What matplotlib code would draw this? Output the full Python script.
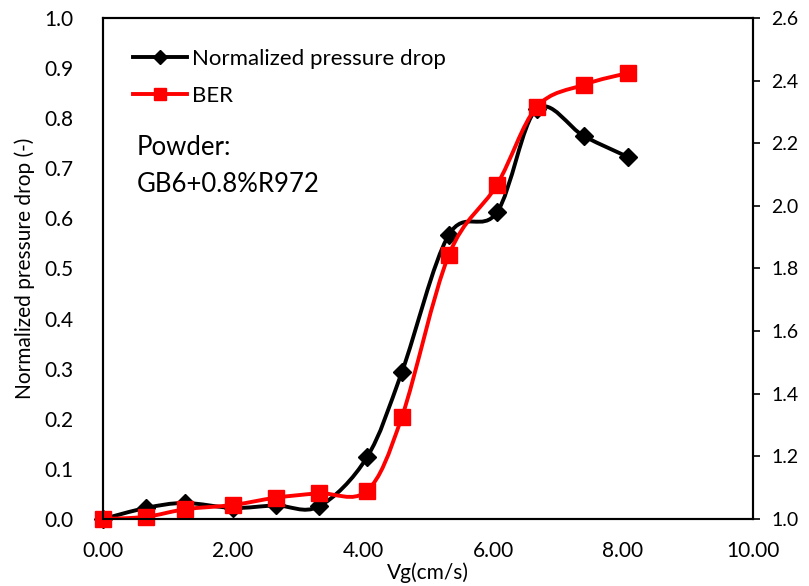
#!/usr/bin/env python3
# -*- coding: utf-8 -*-
"""
Normalized pressure drop and BER vs gas velocity (GB6+0.8%R972).
Excel-style smoothed lines drawn as cubic Bezier paths.
"""
import numpy as np
import matplotlib
matplotlib.use("Agg")
import matplotlib.pyplot as plt
from matplotlib.path import Path
from matplotlib.patches import PathPatch
from matplotlib.lines import Line2D

plt.rcParams["font.family"] = ["Lato", "DejaVu Sans"]

# ---------------------------------------------------------------------------
# DATA
# ---------------------------------------------------------------------------
vg = [0.00, 0.66, 1.26, 2.00, 2.66, 3.32, 4.06, 4.60, 5.32, 6.06, 6.67, 7.40, 8.07]
dp_norm = [0.000, 0.022, 0.032, 0.022, 0.027, 0.025, 0.123, 0.294, 0.567,
           0.612, 0.818, 0.764, 0.723]
ber = [1.000, 1.007, 1.031, 1.045, 1.068, 1.082, 1.090, 1.327, 1.843,
       2.067, 2.315, 2.387, 2.424]

XTICKS = [0, 2, 4, 6, 8, 10]
YTICKS_L = np.round(np.arange(0, 1.01, 0.1), 1)
YTICKS_R = np.round(np.arange(1.0, 2.61, 0.2), 1)

BLACK = "#000000"
RED = "#FF0000"


def smooth_path(x, y, k=1.0 / 6.0):
    """Catmull-Rom style Bezier path through the points (like Excel 'smoothed line')."""
    p = np.column_stack([x, y]).astype(float)
    n = len(p)
    verts = [p[0]]
    codes = [Path.MOVETO]
    for i in range(n - 1):
        p0 = p[max(i - 1, 0)]
        p1, p2 = p[i], p[i + 1]
        p3 = p[min(i + 2, n - 1)]
        c1 = p1 + (p2 - p0) * k
        c2 = p2 - (p3 - p1) * k
        verts += [c1, c2, p2]
        codes += [Path.CURVE4] * 3
    return Path(verts, codes)


fig = plt.figure(figsize=(8.09, 5.86), dpi=100)
ax = fig.add_axes([103 / 809, 1 - 519 / 586, 650 / 809, 501 / 586])
ax2 = ax.twinx()

# black: normalized pressure drop (left axis)
ax.add_patch(PathPatch(smooth_path(vg, dp_norm), fill=False, ec=BLACK, lw=2.8,
                       capstyle="round", joinstyle="round"))
ax.plot(vg, dp_norm, ls="none", marker="D", ms=9, color=BLACK, clip_on=False)

# red: BER (right axis)
ax2.add_patch(PathPatch(smooth_path(vg, ber), fill=False, ec=RED, lw=2.8,
                        capstyle="round", joinstyle="round"))
ax2.plot(vg, ber, ls="none", marker="s", ms=11.5, color=RED, clip_on=False)

ax.set_xlim(0, 10)
ax.set_ylim(0, 1.0)
ax2.set_ylim(1.0, 2.6)
ax.set_xticks(XTICKS)
ax.set_xticklabels([f"{v:.2f}" for v in XTICKS])
ax.set_yticks(YTICKS_L)
ax.set_yticklabels([f"{v:.1f}" for v in YTICKS_L])
ax2.set_yticks(YTICKS_R)
ax2.set_yticklabels([f"{v:.1f}" for v in YTICKS_R])

ax.tick_params(axis="x", length=0, pad=16, labelsize=15)
ax.tick_params(axis="y", length=0, pad=21, labelsize=15)
ax2.tick_params(axis="y", length=5, width=1.2, direction="out", pad=8, labelsize=14)

for a in (ax, ax2):
    for s in a.spines.values():
        s.set_linewidth(1.5)
        s.set_color("black")

ax.set_xlabel("Vg(cm/s)", fontsize=15, labelpad=1)
ax.set_ylabel("Normalized pressure drop (-)", fontsize=15, labelpad=7)

handles = [
    Line2D([], [], color=BLACK, lw=2.8, marker="D", ms=7),
    Line2D([], [], color=RED, lw=2.8, marker="s", ms=9),
]
leg = ax.legend(handles, ["Normalized pressure drop", "BER"], loc="upper left",
                bbox_to_anchor=(0.016, 0.978), frameon=False, fontsize=16,
                handlelength=2.4, handletextpad=0.22, labelspacing=0.75)

fig.text(137 / 809, 1 - 147 / 586, "Powder:", fontsize=18.5, va="center")
fig.text(137 / 809, 1 - 185 / 586, "GB6+0.8%R972", fontsize=18.5, va="center")

fig.savefig("out.png", dpi=100)
